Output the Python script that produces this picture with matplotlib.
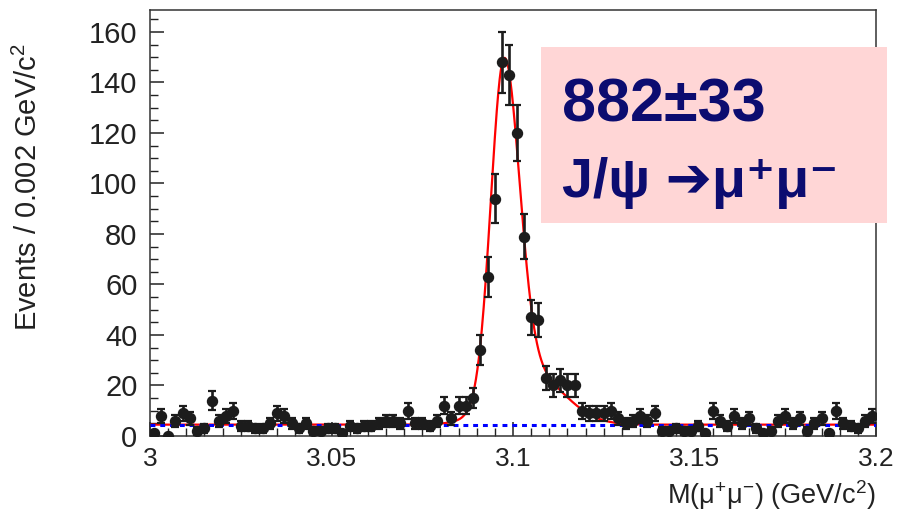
import numpy as np
import matplotlib
matplotlib.use("Agg")
import matplotlib.pyplot as plt
from matplotlib.patches import Rectangle
from matplotlib.ticker import MultipleLocator

plt.rcParams['font.family'] = ['Liberation Sans', 'DejaVu Sans']
plt.rcParams['mathtext.default'] = 'regular'

# ---- data ----
x_min, x_max, bin_width = 3.0, 3.2, 0.002
counts = [1, 8, 0, 6, 9, 7, 2, 3, 14, 6,
          8, 10, 4, 4, 3, 3, 5, 9, 8, 5,
          3, 5, 2, 2, 3, 3, 1, 4, 3, 4,
          4, 5, 6, 6, 5, 10, 5, 5, 4, 6,
          12, 7, 12, 12, 15, 34, 63, 94, 148, 143,
          120, 79, 47, 46, 23, 20, 22, 20, 20, 10,
          9, 9, 9, 10, 7, 5, 6, 8, 6, 9,
          2, 2, 3, 2, 2, 4, 1, 10, 6, 4,
          8, 5, 7, 3, 1, 2, 6, 8, 5, 7,
          2, 5, 7, 1, 10, 5, 4, 3, 6, 8]

# fit model parameters (signal + flat background)
bkg_level = 4.5
core_amp, core_mean, core_sig_l, core_sig_r = 131.0, 3.0975, 0.0036, 0.0042
tail_amp, tail_mean, tail_sig = 20.0, 3.105, 0.009

x_ticks = [3.0, 3.05, 3.1, 3.15, 3.2]
x_tick_labels = ['3', '3.05', '3.1', '3.15', '3.2']
y_ticks = [0, 20, 40, 60, 80, 100, 120, 140, 160]

box_text_1 = '882±33'
box_text_2 = 'J/ψ ➔μ⁺μ⁻'

# ---- figure ----
fig = plt.figure(figsize=(9.02, 5.17), dpi=100)
ax = fig.add_axes([150/902, 81/517, 726/902, 426/517])

counts = np.array(counts, dtype=float)
centers = x_min + bin_width * (np.arange(len(counts)) + 0.5)
errors = np.sqrt(counts)

xx = np.linspace(x_min, x_max, 1500)
sig = np.where(xx < core_mean, core_sig_l, core_sig_r)
model = (bkg_level
         + core_amp * np.exp(-(xx - core_mean) ** 2 / (2 * sig ** 2))
         + tail_amp * np.exp(-(xx - tail_mean) ** 2 / (2 * tail_sig ** 2)))

ax.plot(xx, model, color='#ff0000', lw=1.6, zorder=2)
ax.plot([x_min, x_max], [bkg_level, bkg_level], color='#0000ff', lw=2.2,
        linestyle=(0, (1.6, 1.6)), zorder=3)

ax.errorbar(centers, counts, yerr=errors, fmt='o', color='#1c1c1c',
            ms=7.2, elinewidth=1.9, capsize=2.6, capthick=1.6, zorder=4)

ax.set_xlim(x_min, x_max)
ax.set_ylim(0, 168.7)
ax.set_xticks(x_ticks)
ax.set_xticklabels(x_tick_labels)
ax.set_yticks(y_ticks)
ax.xaxis.set_minor_locator(MultipleLocator(0.005))
ax.yaxis.set_minor_locator(MultipleLocator(5))
ax.tick_params(axis='both', which='both', direction='in', colors='#222222')
ax.tick_params(axis='both', which='major', length=10, width=1.1)
ax.tick_params(axis='both', which='minor', length=5.5, width=1.0)
ax.tick_params(axis='x', which='major', labelsize=19, pad=8)
ax.tick_params(axis='y', which='major', labelsize=21, pad=9)
for s in ax.spines.values():
    s.set_color('#333333')
    s.set_linewidth(1.1)

ax.set_ylabel(r'Events / 0.002 GeV/c$^{2}$', fontsize=21, color='#222222')
ax.yaxis.set_label_coords(-0.147, 0.585)
ax.set_xlabel(r'M($\mu^{+}\mu^{-}$) (GeV/c$^{2}$)', fontsize=19.5,
              color='#222222', ha='right')
ax.xaxis.set_label_coords(1.0, -0.098)

# pink box (figure coordinates)
fig.patches.append(Rectangle((541/902, (517-223)/517), 346/902, 176/517,
                             transform=fig.transFigure, facecolor='#ffd6d6',
                             edgecolor='none', zorder=5))
fig.text(562/902, (517-122)/517, box_text_1, fontsize=44, fontweight='bold',
         color='#0c0c70', ha='left', va='baseline', zorder=6)
fig.text(562/902, (517-197)/517, box_text_2, fontsize=40, fontweight='bold',
         color='#0c0c70', ha='left', va='baseline', zorder=6,
         family=['Liberation Sans', 'DejaVu Sans'])

fig.savefig('out.png', dpi=100)
